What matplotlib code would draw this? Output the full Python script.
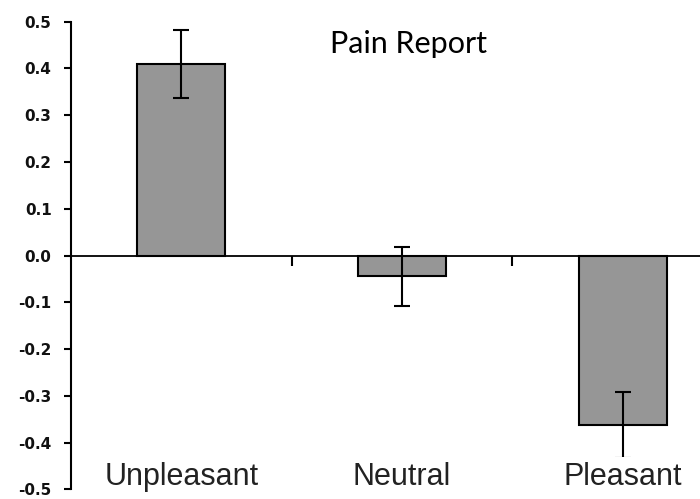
import matplotlib
matplotlib.use('Agg')
import matplotlib.pyplot as plt
from matplotlib.ticker import FixedLocator, FuncFormatter

# values
conditions = ['Unpleasant', 'Neutral', 'Pleasant']
means = [0.41, -0.044, -0.362]
errors = [0.073, 0.063, 0.071]
y_ticks = [-0.5, -0.4, -0.3, -0.2, -0.1, 0.0, 0.1, 0.2, 0.3, 0.4, 0.5]
title = 'Pain Report'

plt.rcParams['axes.unicode_minus'] = False

fig = plt.figure(figsize=(7.0, 4.99), dpi=100)
# plot area is cropped on the right in the original
ax = fig.add_axes([71 / 700, 0.0194, 662 / 700, 0.9371])

x = list(range(len(conditions)))
ax.bar(x, means, width=0.4, color='#969696', edgecolor='black', linewidth=1.5, zorder=2)
ax.errorbar(x, means, yerr=errors, fmt='none', ecolor='black', elinewidth=1.5,
            capsize=5.5, capthick=1.5, zorder=3)

ax.set_xlim(-0.5, len(conditions) - 0.5)
ax.set_ylim(-0.5, 0.5)

for side in ['top', 'right']:
    ax.spines[side].set_visible(False)
ax.spines['left'].set_linewidth(1.5)
ax.spines['bottom'].set_position(('data', 0))
ax.spines['bottom'].set_linewidth(1.3)
ax.spines['bottom'].set_zorder(4)

ax.yaxis.set_major_locator(FixedLocator(y_ticks))
ax.yaxis.set_major_formatter(FuncFormatter(lambda v, p: f'{v:.1f}'))
ax.tick_params(axis='y', direction='out', length=5, width=1.5, pad=9,
               labelsize=11, labelcolor='#111111')
for lbl in ax.get_yticklabels():
    lbl.set_family('DejaVu Sans')
    lbl.set_fontweight('bold')

# category separators below the zero line, no labels on the axis itself
ax.set_xticks(x)
ax.set_xticklabels([])
ax.tick_params(axis='x', which='major', length=0)
ax.set_xticks([i + 0.5 for i in x[:-1]], minor=True)
ax.tick_params(axis='x', which='minor', direction='out', length=7, width=1.5)

# category names sit inside the plot area, on white boxes
for i, name in enumerate(conditions):
    ax.text(i, -0.49, name, ha='center', va='baseline', fontsize=22,
            family='Liberation Sans', color='#222222', zorder=5,
            bbox=dict(facecolor='white', edgecolor='none', pad=3))

fig.text(408 / 700, 1 - 53.3 / 499, title, ha='center', va='baseline',
         fontsize=22, family='Lato')

fig.savefig('out.png', dpi=100)
